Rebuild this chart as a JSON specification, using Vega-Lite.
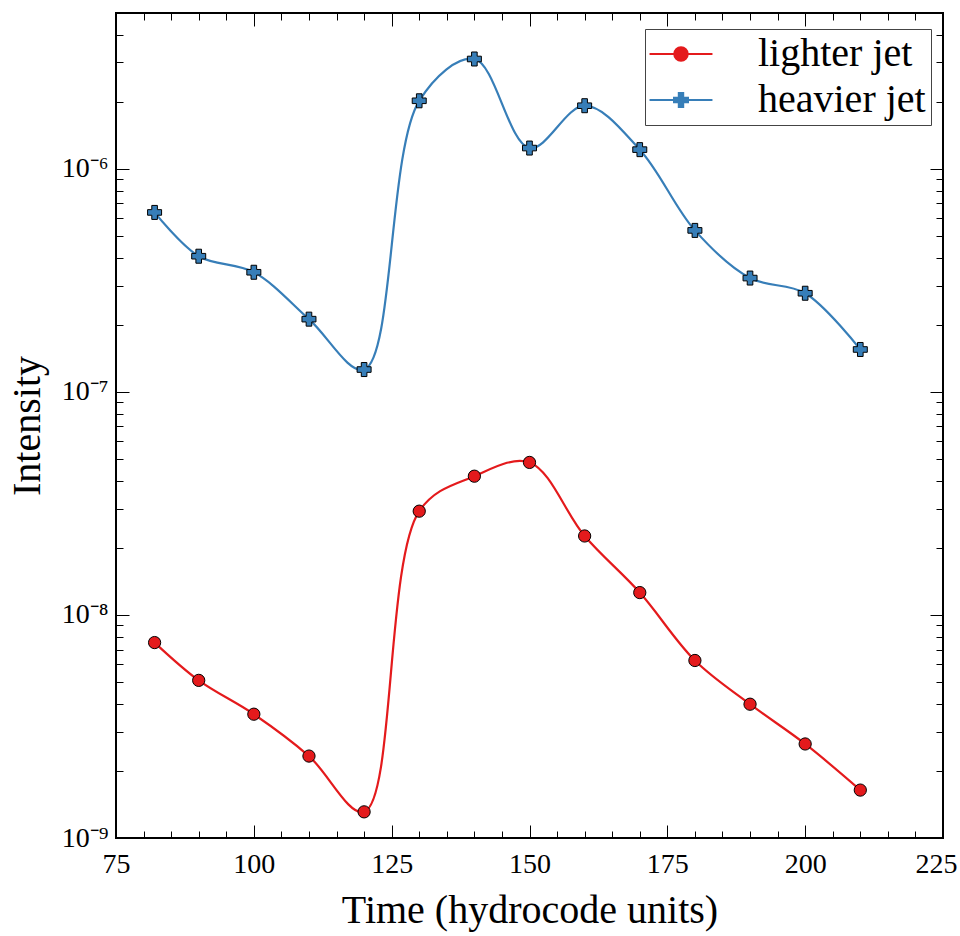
{
  "$schema": "https://vega.github.io/schema/vega-lite/v6.json",
  "width": 827,
  "height": 825,
  "autosize": {"type": "none"},
  "padding": {"left": 116, "top": 13, "right": 17, "bottom": 98},
  "background": "white",
  "config": {
    "font": "Liberation Serif",
    "view": {"stroke": "black", "strokeWidth": 2},
    "axis": {"grid": false, "domain": false, "tickColor": "black", "tickWidth": 1, "labelColor": "black", "titleColor": "black", "labelFont": "Liberation Serif", "titleFont": "Liberation Serif", "titleFontWeight": "normal"}
  },
  "data": {
    "values": [
      {"t": 82, "intensity": 7.52e-9, "series": "lighter jet"},
      {"t": 90, "intensity": 5.09e-9, "series": "lighter jet"},
      {"t": 100, "intensity": 3.59e-9, "series": "lighter jet"},
      {"t": 110, "intensity": 2.33e-9, "series": "lighter jet"},
      {"t": 120, "intensity": 1.31e-9, "series": "lighter jet"},
      {"t": 130, "intensity": 2.92e-8, "series": "lighter jet"},
      {"t": 140, "intensity": 4.19e-8, "series": "lighter jet"},
      {"t": 150, "intensity": 4.83e-8, "series": "lighter jet"},
      {"t": 160, "intensity": 2.26e-8, "series": "lighter jet"},
      {"t": 170, "intensity": 1.26e-8, "series": "lighter jet"},
      {"t": 180, "intensity": 6.25e-9, "series": "lighter jet"},
      {"t": 190, "intensity": 3.98e-9, "series": "lighter jet"},
      {"t": 200, "intensity": 2.64e-9, "series": "lighter jet"},
      {"t": 210, "intensity": 1.64e-9, "series": "lighter jet"},
      {"t": 82, "intensity": 6.38e-7, "series": "heavier jet"},
      {"t": 90, "intensity": 4.06e-7, "series": "heavier jet"},
      {"t": 100, "intensity": 3.44e-7, "series": "heavier jet"},
      {"t": 110, "intensity": 2.12e-7, "series": "heavier jet"},
      {"t": 120, "intensity": 1.26e-7, "series": "heavier jet"},
      {"t": 130, "intensity": 2.02e-6, "series": "heavier jet"},
      {"t": 140, "intensity": 3.11e-6, "series": "heavier jet"},
      {"t": 150, "intensity": 1.24e-6, "series": "heavier jet"},
      {"t": 160, "intensity": 1.92e-6, "series": "heavier jet"},
      {"t": 170, "intensity": 1.22e-6, "series": "heavier jet"},
      {"t": 180, "intensity": 5.3e-7, "series": "heavier jet"},
      {"t": 190, "intensity": 3.24e-7, "series": "heavier jet"},
      {"t": 200, "intensity": 2.77e-7, "series": "heavier jet"},
      {"t": 210, "intensity": 1.55e-7, "series": "heavier jet"}
    ]
  },
  "layer": [
    {
      "mark": {"type": "line", "interpolate": "catmull-rom", "strokeWidth": 2.2},
      "encoding": {
        "x": {"field": "t", "type": "quantitative", "scale": {"domain": [75, 225], "nice": false, "zero": false},
          "axis": {"orient": "bottom", "values": [75, 100, 125, 150, 175, 200, 225], "tickSize": -13, "labelFontSize": 28, "labelPadding": 25, "labelFlush": true, "labelFlushOffset": 14, "title": "Time (hydrocode units)", "titleFontSize": 40, "titlePadding": 12}},
        "y": {"field": "intensity", "type": "quantitative", "scale": {"type": "log", "domain": [1e-9, 5e-6], "nice": false},
          "axis": {"orient": "left", "values": [1e-9, 1e-8, 1e-7, 1e-6], "tickSize": -13, "labelFontSize": 28, "labelPadding": 21, "labelFlush": false,
            "labelExpr": "datum.value < 5e-9 ? '10⁻⁹' : datum.value < 5e-8 ? '10⁻⁸' : datum.value < 5e-7 ? '10⁻⁷' : '10⁻⁶'",
            "title": "Intensity", "titleFontSize": 40, "titlePadding": 14}},
        "color": {"field": "series", "type": "nominal", "scale": {"domain": ["lighter jet", "heavier jet"], "range": ["#e41a1c", "#377eb8"]},
          "legend": {"title": null, "orient": "none", "legendX": 529, "legendY": 16, "labelFontSize": 40, "labelFont": "Liberation Serif", "labelColor": "black", "labelLimit": 400,
            "symbolSize": 676, "symbolStrokeWidth": 2, "symbolOffset": 11, "labelOffset": 57, "padding": 5, "rowPadding": 6, "strokeColor": "#444", "fillColor": "white",
            "encode": {"symbols": {"update": {
              "shape": {"signal": "datum.value == 'lighter jet' ? 'M-2.42,0H2.42M0.52,0A0.52,0.52,0,1,1,-0.52,0A0.52,0.52,0,1,1,0.52,0Z' : 'M-2.42,0H2.42M-0.54,-0.17H-0.17V-0.54H0.17V-0.17H0.54V0.17H0.17V0.54H-0.17V0.17H-0.54Z'"},
              "fill": {"scale": "color", "field": "value"},
              "opacity": {"value": 1}
            }}}}}
      }
    },
    {
      "transform": [{"filter": "datum.series == 'lighter jet'"}],
      "mark": {"type": "point", "shape": "circle", "filled": true, "fill": "#e41a1c", "stroke": "black", "strokeWidth": 1, "strokeOpacity": 1, "size": 150, "opacity": 1},
      "encoding": {
        "x": {"field": "t", "type": "quantitative", "axis": {"orient": "bottom", "values": [80, 85, 90, 95, 105, 110, 115, 120, 130, 135, 140, 145, 155, 160, 165, 170, 180, 185, 190, 195, 205, 210, 215, 220], "tickSize": -7, "labels": false, "title": null}},
        "y": {"field": "intensity", "type": "quantitative", "axis": {"orient": "left", "values": [2e-9, 3e-9, 4e-9, 5e-9, 6e-9, 7e-9, 8e-9, 9e-9, 2e-8, 3e-8, 4e-8, 5e-8, 6e-8, 7e-8, 8e-8, 9e-8, 2e-7, 3e-7, 4e-7, 5e-7, 6e-7, 7e-7, 8e-7, 9e-7, 2e-6, 3e-6, 4e-6], "tickSize": -7, "labels": false, "title": null}}
      }
    },
    {
      "transform": [{"filter": "datum.series == 'heavier jet'"}],
      "mark": {"type": "point", "shape": "cross", "filled": true, "fill": "#377eb8", "stroke": "black", "strokeWidth": 1, "strokeOpacity": 1, "size": 196, "opacity": 1},
      "encoding": {
        "x": {"field": "t", "type": "quantitative", "axis": {"orient": "top", "values": [75, 100, 125, 150, 175, 200, 225], "tickSize": -13, "labels": false, "title": null}},
        "y": {"field": "intensity", "type": "quantitative", "axis": {"orient": "right", "values": [1e-9, 1e-8, 1e-7, 1e-6], "tickSize": -13, "labels": false, "title": null}}
      }
    },
    {
      "mark": {"type": "point", "opacity": 0},
      "encoding": {
        "x": {"field": "t", "type": "quantitative", "axis": {"orient": "top", "values": [80, 85, 90, 95, 105, 110, 115, 120, 130, 135, 140, 145, 155, 160, 165, 170, 180, 185, 190, 195, 205, 210, 215, 220], "tickSize": -7, "labels": false, "title": null}},
        "y": {"field": "intensity", "type": "quantitative", "axis": {"orient": "right", "values": [2e-9, 3e-9, 4e-9, 5e-9, 6e-9, 7e-9, 8e-9, 9e-9, 2e-8, 3e-8, 4e-8, 5e-8, 6e-8, 7e-8, 8e-8, 9e-8, 2e-7, 3e-7, 4e-7, 5e-7, 6e-7, 7e-7, 8e-7, 9e-7, 2e-6, 3e-6, 4e-6], "tickSize": -7, "labels": false, "title": null}}
      }
    }
  ],
  "resolve": {"axis": {"x": "independent", "y": "independent"}}
}
